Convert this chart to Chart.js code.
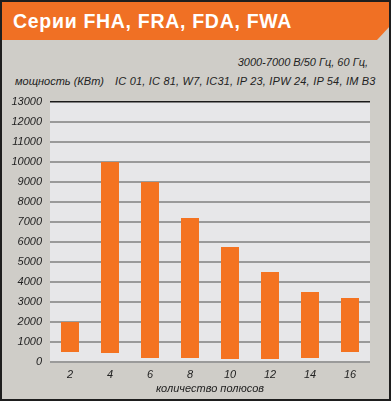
<!DOCTYPE html>
<html><head><meta charset="utf-8">
<script src="https://cdn.jsdelivr.net/npm/chart.js@4/dist/chart.umd.min.js"></script>
<style>
html,body{margin:0;padding:0;}
body{width:391px;height:401px;position:relative;overflow:hidden;background:#cfcdc8;font-family:"Liberation Sans",Arial,sans-serif;}
#frame{position:absolute;left:0;top:0;width:391px;height:401px;box-sizing:border-box;border:2px solid #1e1e1e;pointer-events:none;z-index:5;}
#banner{position:absolute;left:0;top:0;width:391px;height:40px;background:#f07024;clip-path:polygon(0 0,391px 0,391px 25px,377px 40px,0 40px);}
#title{position:absolute;left:13px;top:10px;color:#fff;font-weight:bold;font-size:19.5px;letter-spacing:0.7px;white-space:nowrap;}
.sub{position:absolute;font-style:italic;font-size:11px;color:#222;white-space:nowrap;}
#c{position:absolute;left:0;top:0;}
</style></head><body>
<div id="banner"></div>
<div id="title">Серии FHA, FRA, FDA, FWA</div>
<div class="sub" id="s1" style="right:23px;top:56px;">3000-7000 В/50 Гц, 60 Гц,</div>
<div class="sub" id="s2" style="left:15px;top:75px;">мощность (КВт)</div>
<div class="sub" id="s3" style="left:115px;top:75px;letter-spacing:0.2px;">IC 01, IC 81, W7, IC31, IP 23, IPW 24, IP 54, IM B3</div>
<canvas id="c" width="391" height="401"></canvas>
<div id="frame"></div>
<script>
const categories = ['2','4','6','8','10','12','14','16'];
const minPower = [500, 450, 200, 200, 150, 150, 200, 500];
const maxPower = [2000, 10000, 9000, 7200, 5750, 4500, 3500, 3200];
const yTicks = [0,1000,2000,3000,4000,5000,6000,7000,8000,9000,10000,11000,12000,13000];
const xTitle = 'количество полюсов';

const ranges = categories.map((c,i)=>[minPower[i], maxPower[i]]);

const bgPlugin = {
  id:'bg',
  beforeDraw(chart){
    const {ctx, chartArea:a} = chart;
    ctx.save();
    ctx.fillStyle='#e7e7e9';
    ctx.fillRect(a.left, a.top, a.right-a.left, a.bottom-a.top);
    ctx.restore();
  }
};

new Chart(document.getElementById('c'), {
  type:'bar',
  data:{labels:categories, datasets:[{data:ranges, backgroundColor:'#f47321', borderWidth:0, barPercentage:0.45, categoryPercentage:1}]},
  options:{
    responsive:false, animation:false,
    layout:{padding:{left:0,right:21,top:102,bottom:0}},
    plugins:{legend:{display:false}, tooltip:{enabled:false}},
    scales:{
      x:{
        grid:{display:false, drawTicks:false},
        border:{display:false},
        ticks:{color:'#222', padding:6, font:{family:'Liberation Sans', style:'italic', size:11}},
        title:{display:true, text:xTitle, color:'#222', padding:{top:0,bottom:5}, font:{family:'Liberation Sans', style:'italic', size:11}},
        afterFit(s){ s.height = 39; }
      },
      y:{
        min:0, max:13000,
        afterBuildTicks(s){ s.ticks = yTicks.map(v=>({value:v})); },
        grid:{drawTicks:false, color:(c)=>c.tick && c.tick.value===13000 ? '#1a1a1a' : '#9a9a9a', lineWidth:(c)=>c.tick && c.tick.value===13000 ? 1.5 : 2},
        border:{display:false},
        ticks:{color:'#222', padding:8, callback:(v)=>String(v), font:{family:'Liberation Sans', style:'italic', size:11}},
        afterFit(s){ s.width = 50; }
      }
    }
  },
  plugins:[bgPlugin]
});
</script>
</body></html>
